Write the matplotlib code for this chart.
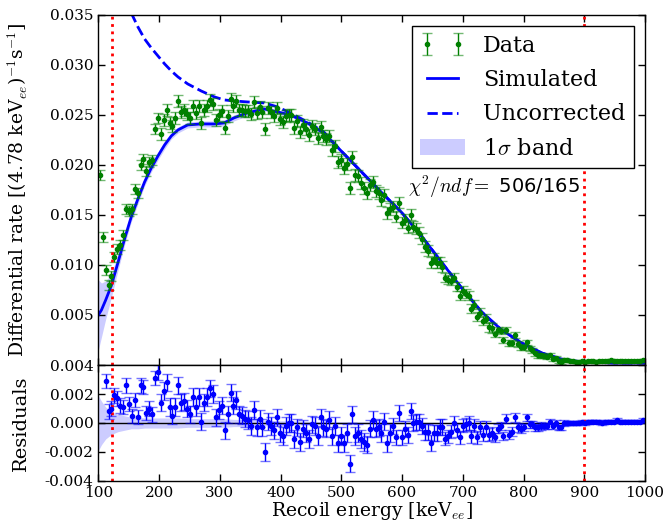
import numpy as np
import matplotlib
matplotlib.use("Agg")
import matplotlib.pyplot as plt
from matplotlib.ticker import FormatStrFormatter

plt.rcParams["font.family"] = ["DejaVu Serif"]
plt.rcParams["mathtext.fontset"] = "cm"

# bins of 4.78 keV between 100 and 1000 keV
bin_width = 4.78
energy = np.arange(100 + bin_width / 2, 1000, bin_width)

# measured rate, residuals and errors (units of 1e-4)
data_rate = np.array([
    190, 128, 95, 80, 89, 108, 116, 120, 130, 156,
    154, 156, 176, 172, 200, 206, 194, 203, 205, 236,
    247, 231, 245, 255, 242, 239, 247, 264, 253, 255,
    251, 247, 259, 252, 259, 242, 255, 259, 265, 261,
    245, 250, 254, 237, 249, 266, 259, 264, 255, 255,
    254, 254, 251, 263, 252, 258, 253, 236, 257, 253,
    249, 257, 246, 243, 249, 250, 250, 237, 244, 233,
    240, 236, 230, 239, 236, 227, 238, 229, 226, 229,
    215, 219, 203, 205, 197, 201, 177, 208, 190, 189,
    182, 177, 172, 180, 183, 174, 172, 165, 170, 152,
    156, 158, 148, 162, 142, 145, 137, 150, 138, 136,
    132, 126, 118, 114, 102, 106, 102, 102, 98, 87,
    85, 84, 87, 78, 69, 74, 71, 69, 56, 60,
    48, 52, 44, 46, 38, 37, 31, 35, 34, 25,
    35, 22, 22, 30, 21, 18, 18, 23, 17, 15,
    12, 10, 10, 9, 8, 10, 6, 7, 4, 3,
    5, 5, 4, 4, 3, 3, 4, 3, 4, 4,
    4, 3, 4, 4, 4, 4, 5, 4, 4, 4,
    4, 4, 4, 4, 4, 4, 4, 5]) * 1e-4

residuals = np.array([
    138, 69, 29, 8, 10, 19, 17, 12, 11, 26,
    13, 5, 16, 4, 26, 25, 7, 10, 6, 31,
    35, 14, 22, 28, 11, 5, 11, 26, 14, 15,
    10, 6, 18, 11, 18, 1, 14, 18, 24, 20,
    4, 9, 12, -5, 6, 21, 12, 16, 6, 5,
    3, 2, -2, 9, -3, 3, -3, -20, 1, -2,
    -5, 4, -7, -9, -2, 0, 0, -11, -3, -13,
    -4, -7, -11, -1, -2, -9, 4, -3, -4, 2,
    -9, -2, -14, -9, -14, -7, -28, 6, -9, -7,
    -11, -13, -15, -4, 2, -4, -3, -7, 1, -14,
    -7, -2, -10, 7, -10, -4, -8, 8, 0, 1,
    1, -2, -6, -6, -14, -7, -7, -3, -3, -11,
    -9, -6, 0, -5, -10, -2, -1, 0, -9, -2,
    -10, -3, -8, -3, -8, -7, -10, -4, -2, -9,
    3, -8, -6, 4, -3, -4, -3, 4, -1, -1,
    -3, -3, -2, -2, -2, 1, -2, 0, -3, -3,
    0, 0, 0, 0, 0, 0, 1, 0, 1, 1,
    1, 1, 1, 0, 1, 1, 1, 1, 2, 1,
    1, 1, 1, 1, 1, 1, 1, 2]) * 1e-4

errors = np.array([
    5, 5, 5, 5, 5, 5, 5, 5, 5, 5,
    5, 5, 5, 5, 5, 5, 5, 5, 5, 5,
    5, 6, 6, 6, 6, 6, 6, 6, 6, 6,
    6, 6, 6, 6, 6, 6, 6, 6, 6, 6,
    6, 6, 6, 6, 6, 6, 6, 6, 6, 6,
    6, 6, 6, 6, 6, 6, 6, 6, 6, 6,
    6, 6, 6, 6, 6, 6, 6, 6, 6, 6,
    6, 6, 6, 6, 6, 6, 6, 6, 6, 6,
    6, 6, 6, 6, 6, 6, 6, 6, 6, 6,
    6, 6, 6, 6, 6, 6, 6, 6, 6, 6,
    6, 5.5, 5.5, 5.5, 5.5, 5.5, 5.5, 5.5, 5.5, 5.5,
    5.5, 5.5, 5.5, 5.5, 5.5, 5.5, 5.5, 5.5, 5.5, 4.5,
    4.5, 4.5, 4.5, 4.5, 4.5, 4.5, 4.5, 4.5, 4.5, 4.5,
    4.5, 4.5, 4.5, 4.5, 4.5, 4.5, 3, 3, 3, 3,
    3, 3, 3, 3, 3, 3, 2.5, 2.5, 2.5, 2.5,
    2.5, 2.5, 2.5, 1.8, 1.8, 1.8, 1.8, 1.8, 1.8, 1.8,
    1.8, 1.2, 1.2, 1.2, 1.2, 1.2, 1.2, 1.2, 1.2, 1.2,
    1.2, 1.2, 1.2, 1.2, 1.2, 1.2, 1.2, 1.2, 1.2, 1.2,
    1.2, 1.2, 1.2, 1.2, 1.2, 1.2, 1.2, 1.2]) * 1e-4

# simulated spectrum (units of 1e-4)
model_E = np.array([100, 105, 112, 121, 132, 143, 154, 165, 176, 187,
                    198, 209, 220, 231, 247, 269, 291, 307, 323, 345,
                    373, 395, 416, 444, 471, 498, 530, 562, 600, 633,
                    666, 698, 731, 764, 797, 830, 862, 898, 950, 1000])
sim_rate = np.array([50, 55, 65, 79, 102, 126, 148, 166, 183, 197,
                     209, 220, 229, 235, 240, 241, 241, 242, 247, 252,
                     256, 253, 250, 242, 232, 215, 195, 175, 152, 128,
                     102, 77, 53, 35, 22, 12, 6, 3, 2, 2]) * 1e-4
uncorr_rate = np.array([np.nan, np.nan, np.nan, np.nan, np.nan, np.nan, 352, 338, 326, 317,
                        309, 301, 294, 288, 281, 274, 268, 265, 264, 263,
                        262, 258, 252, 243, 233, 215, 195, 175, 152, 128,
                        102, 77, 53, 35, 22, 12, 6, 3, 2, 2]) * 1e-4
band_top = np.array([35, 27, 19, 12, 8, 6, 5, 5, 4, 4,
                     4, 4, 3, 3, 3, 3, 3, 3, 3, 3,
                     2, 2, 2, 2, 2, 2, 2, 2, 2, 2,
                     1, 1, 1, 1, 1, 1, 1, 1, 1, 1]) * 1e-4
band_res = np.array([19, 15, 11, 8, 6, 5, 4, 4, 3.5, 3.5,
                     3.5, 3.5, 3.5, 3.5, 3, 3, 3, 3, 2.5, 2.5,
                     2, 1.5, 1.5, 1.2, 1, 1, 0.8, 0.8, 0.6, 0.6,
                     0.5, 0.5, 0.4, 0.4, 0.3, 0.3, 0.3, 0.3, 0.3, 0.3]) * 1e-4

cuts = [122, 900]

fig = plt.figure(figsize=(6.65, 5.21), dpi=100)
ax1 = fig.add_axes([0.148, 0.2994, 0.822, 0.672])
ax2 = fig.add_axes([0.148, 0.0768, 0.822, 0.2226], sharex=ax1)

# top panel
band = ax1.fill_between(model_E, sim_rate - band_top, sim_rate + band_top,
                        color="b", alpha=0.2, lw=0, label=r"1$\sigma$ band")
unc, = ax1.plot(model_E, uncorr_rate, "b--", lw=2, label="Uncorrected")
sim, = ax1.plot(model_E, sim_rate, "b-", lw=2, label="Simulated")
eb = ax1.errorbar(energy, data_rate, yerr=errors, fmt="o", color="g",
                  ms=3, mec="g", lw=1, capsize=3.5, label="Data")
for cap in eb[1]:
    cap.set_alpha(0.55)
for x in cuts:
    ax1.axvline(x, color="r", ls=":", lw=2)

ax1.set_xlim(100, 1000)
ax1.set_ylim(0, 0.035)
ax1.set_yticks([0.005, 0.010, 0.015, 0.020, 0.025, 0.030, 0.035])
ax1.yaxis.set_major_formatter(FormatStrFormatter("%.3f"))
ax1.set_ylabel(r"Differential rate [(4.78 keV$_{ee}$)$^{-1}$s$^{-1}$]", fontsize=13.5)
ax1.yaxis.set_label_coords(-0.125, 0.5)
ax1.tick_params(labelbottom=False)

leg = ax1.legend([eb, sim, unc, band], ["Data", "Simulated", "Uncorrected", r"1$\sigma$ band"],
                 loc="upper right", numpoints=2, fontsize=16, labelspacing=0.55,
                 fancybox=False, framealpha=1, edgecolor="k")
leg.get_frame().set_linewidth(1)

ax1.text(610, 0.0178, r"$\chi^2/ndf=$ 506/165", fontsize=14, va="center",
         family="DejaVu Sans")

# residual panel
ax2.fill_between(model_E, -band_res, band_res, color="b", alpha=0.2, lw=0)
ax2.axhline(0, color="k", lw=1)
eb2 = ax2.errorbar(energy, residuals, yerr=errors, fmt="o", color="b",
                   ms=3, mec="b", lw=1, capsize=3.5)
for cap in eb2[1]:
    cap.set_alpha(0.55)
for x in cuts:
    ax2.axvline(x, color="r", ls=":", lw=2)

ax2.set_ylim(-0.004, 0.004)
ax2.set_yticks([-0.004, -0.002, 0.0, 0.002, 0.004])
ax2.yaxis.set_major_formatter(FormatStrFormatter("%.3f"))
ax2.set_xticks(np.arange(100, 1001, 100))
ax2.set_xlabel(r"Recoil energy [keV$_{ee}$]", fontsize=13.5, labelpad=0)
ax2.set_ylabel("Residuals", fontsize=14)
ax2.yaxis.set_label_coords(-0.125, 0.5)

for ax in (ax1, ax2):
    ax.tick_params(direction="in", top=True, right=True, length=5, width=1,
                   labelsize=11)
    for s in ax.spines.values():
        s.set_linewidth(1)

fig.savefig("out.png", dpi=100)
